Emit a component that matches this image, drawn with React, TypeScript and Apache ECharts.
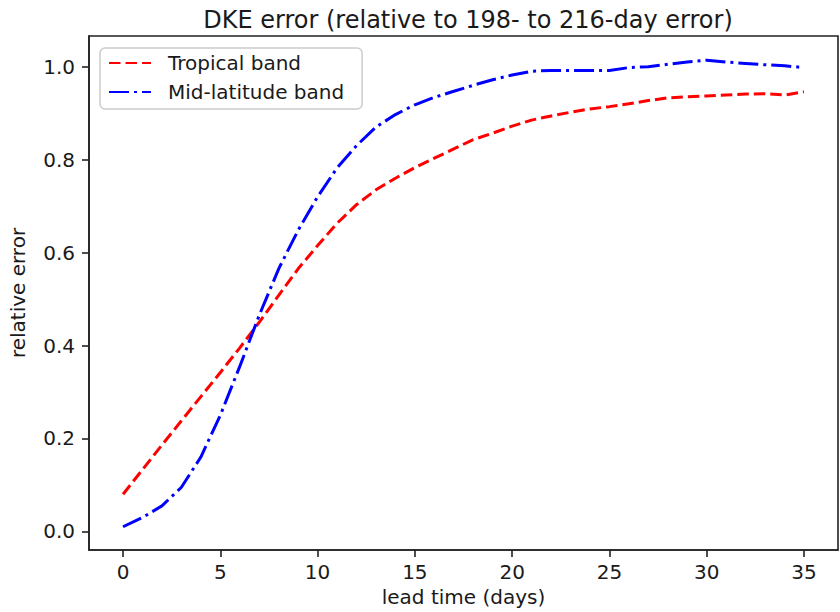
import React, { useEffect, useRef } from "react";
import * as echarts from "echarts";

const leadDays: number[] = Array.from({ length: 36 }, (_, i) => i);

const tropicalBand: number[] = [
  0.08, 0.133, 0.186, 0.238, 0.29, 0.342, 0.395, 0.45, 0.508, 0.565,
  0.615, 0.663, 0.703, 0.735, 0.76, 0.783, 0.803, 0.823, 0.843, 0.857,
  0.872, 0.885, 0.894, 0.902, 0.909, 0.914, 0.92, 0.927, 0.933, 0.935,
  0.937, 0.939, 0.941, 0.942, 0.939, 0.946,
];

const midLatitudeBand: number[] = [
  0.01, 0.03, 0.055, 0.095, 0.16, 0.25, 0.355, 0.465, 0.565, 0.648,
  0.72, 0.782, 0.83, 0.87, 0.897, 0.918, 0.934, 0.947, 0.96, 0.972,
  0.982, 0.99, 0.992, 0.992, 0.992, 0.992, 0.998, 1.0, 1.005, 1.01,
  1.014, 1.01, 1.007, 1.004, 1.002, 0.998,
];

const xTicks: number[] = [0, 5, 10, 15, 20, 25, 30, 35];
const yTicks: number[] = [0, 0.2, 0.4, 0.6, 0.8, 1.0];

const TEXT = "#1a1a1a";
const FONT = "DejaVu Sans";

export default function App() {
  const ref = useRef<HTMLDivElement>(null);
  useEffect(() => {
    if (!ref.current) return;
    const chart = echarts.init(ref.current, undefined, { renderer: "svg" });
    chart.setOption({
      animation: false,
      backgroundColor: "#ffffff",
      title: {
        text: "DKE error (relative to 198- to 216-day error)",
        left: 463,
        textAlign: "center",
        top: 3,
        textStyle: { fontFamily: FONT, fontSize: 24, fontWeight: "normal", color: TEXT },
      },
      grid: {
        left: 89,
        right: 2,
        top: 36,
        bottom: 62,
        show: true,
        borderColor: "#222",
        borderWidth: 1.6,
        backgroundColor: "transparent",
      },
      legend: {
        orient: "vertical",
        left: 100,
        top: 48,
        itemWidth: 42,
        itemHeight: 14,
        itemGap: 7,
        padding: [4, 18, 6, 8],
        borderColor: "#cccccc",
        borderWidth: 1.5,
        borderRadius: 5,
        backgroundColor: "rgba(255,255,255,0.8)",
        itemStyle: { opacity: 0 },
        textStyle: {
          fontFamily: FONT,
          fontSize: 20,
          color: TEXT,
          lineHeight: 22,
          padding: [0, 0, 0, 12],
        },
        data: ["Tropical band", "Mid-latitude band"],
      },
      xAxis: {
        type: "value",
        min: -1.75,
        max: 36.75,
        name: "lead time (days)",
        nameLocation: "middle",
        nameGap: 36,
        nameTextStyle: { fontFamily: FONT, fontSize: 20, color: TEXT },
        axisLine: { show: true, onZero: false, lineStyle: { color: "#222", width: 1.6 } },
        axisTick: {
          show: true,
          length: 7,
          customValues: xTicks,
          lineStyle: { color: "#222", width: 1.6 },
        },
        axisLabel: {
          customValues: xTicks,
          margin: 12,
          fontFamily: FONT,
          fontSize: 20,
          color: TEXT,
          formatter: (v: number) => String(v),
        },
        splitLine: { show: false },
      },
      yAxis: {
        type: "value",
        min: -0.04,
        max: 1.066,
        name: "relative error",
        nameLocation: "middle",
        nameGap: 61,
        nameTextStyle: { fontFamily: FONT, fontSize: 20, color: TEXT },
        axisLine: { show: true, onZero: false, lineStyle: { color: "#222", width: 1.6 } },
        axisTick: {
          show: true,
          length: 7,
          customValues: yTicks,
          lineStyle: { color: "#222", width: 1.6 },
        },
        axisLabel: {
          customValues: yTicks,
          margin: 14,
          fontFamily: FONT,
          fontSize: 20,
          color: TEXT,
          formatter: (v: number) => v.toFixed(1),
        },
        splitLine: { show: false },
      },
      series: [
        {
          name: "Tropical band",
          type: "line",
          symbol: "none",
          data: leadDays.map((d, i) => [d, tropicalBand[i]]),
          lineStyle: { color: "#ff0000", width: 3, type: [11.5, 5] },
          itemStyle: { color: "#ff0000" },
          z: 3,
        },
        {
          name: "Mid-latitude band",
          type: "line",
          symbol: "none",
          data: leadDays.map((d, i) => [d, midLatitudeBand[i]]),
          lineStyle: { color: "#0000ff", width: 3, type: [20, 5, 3, 5] },
          itemStyle: { color: "#0000ff" },
          z: 3,
        },
      ],
    });
    return () => chart.dispose();
  }, []);
  return <div ref={ref} style={{ width: 840, height: 612, position: "absolute", left: 0, top: 0 }} />;
}
